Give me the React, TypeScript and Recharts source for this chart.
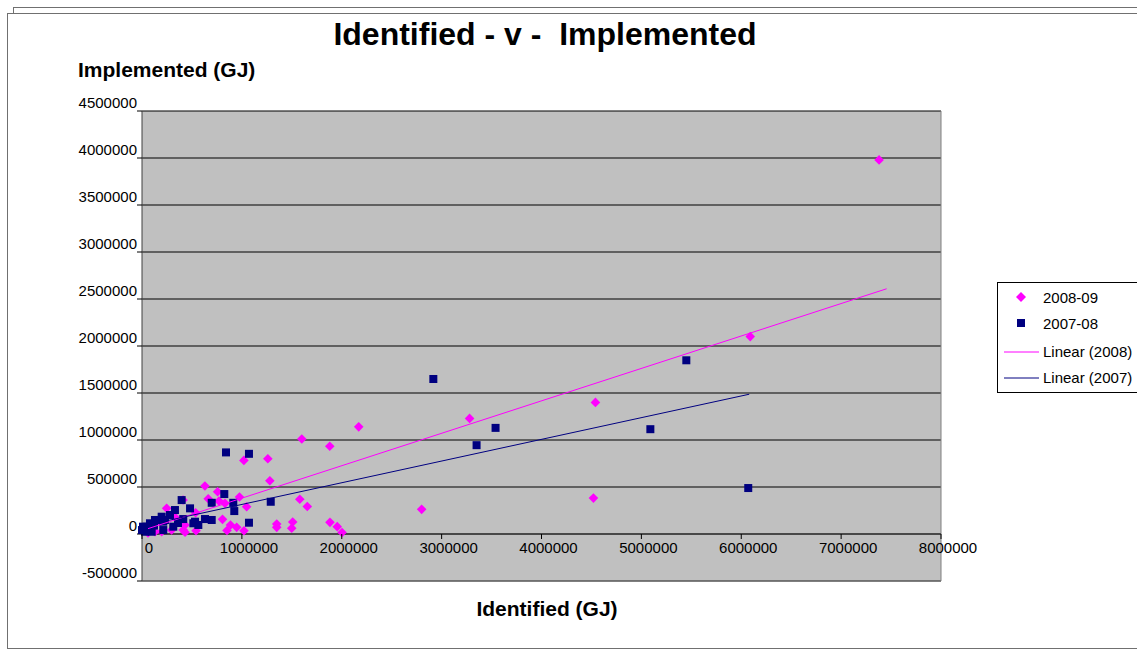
import React from 'react';
import { ScatterChart, Scatter, XAxis, YAxis, CartesianGrid, ReferenceLine } from 'recharts';

// 2008-09 series
const identified2008 = [
  7380000, 6090000, 4540000, 4520000, 3280000, 2800000, 2170000, 1880000, 1600000, 1260000,
  1280000, 1020000, 630000, 757000, 663000, 771000, 831000, 976000, 1048000, 1580000,
  1655000, 806000, 886000, 948000, 851000, 1021000, 1349000, 1349000, 1509000, 1499000,
  1882000, 1955000, 2003000, 431000, 431000, 541000, 247000, 297000, 413000, 130000,
  197000, 411000, 537000, 60000, 180000, 330000,
];
const implemented2008 = [
  3980000, 2100000, 1400000, 382000, 1230000, 262000, 1140000, 934000, 1010000, 800000,
  566000, 783000, 510000, 449000, 375000, 350000, 326000, 393000, 290000, 369000,
  292000, 156000, 96000, 71000, 37000, 35000, 106000, 71000, 127000, 61000,
  124000, 78000, 16000, 96000, 18000, 35000, 273000, 42000, 42000, 24000,
  24000, 361000, 226000, 10000, 127000, 180000,
];

// 2007-08 series
const identified2007 = [
  2917000, 5450000, 3540000, 3350000, 5090000, 6070000, 841000, 1071000, 824000, 698000,
  914000, 924000, 1289000, 481000, 397000, 413000, 531000, 564000, 631000, 698000,
  1071000, 280000, 197000, 130000, 80000, 47000, 0, 213000, 313000, 514000,
  10000, 30000, 97000, 160000, 330000, 230000, 360000, 213000, 120000, 60000,
];
const implemented2007 = [
  1649000, 1848000, 1129000, 945000, 1115000, 489000, 868000, 853000, 425000, 332000,
  332000, 244000, 343000, 273000, 361000, 159000, 131000, 96000, 159000, 149000,
  120000, 202000, 184000, 149000, 114000, 78000, 42000, 42000, 78000, 114000,
  78000, 24000, 24000, 149000, 255000, 149000, 117000, 131000, 90000, 60000,
];

// Linear trend lines (end points)
const trendIdentified2008 = [60000, 7456000];
const trendImplemented2008 = [57000, 2609000];
const trendIdentified2007 = [10000, 6080000];
const trendImplemented2007 = [86000, 1487000];

const xTicks = [0, 1000000, 2000000, 3000000, 4000000, 5000000, 6000000, 7000000, 8000000];
const yTicks = [-500000, 0, 500000, 1000000, 1500000, 2000000, 2500000, 3000000, 3500000, 4000000, 4500000];
const seriesNames = ['2008-09', '2007-08', 'Linear (2008)', 'Linear (2007)'];

const PINK = '#FF00FF';
const NAVY = '#000080';
const FONT = "'Liberation Sans', Arial, sans-serif";

const toPoints = (xs: number[], ys: number[]) => xs.map((x, i) => ({ x, y: ys[i] }));

const pts2008 = toPoints(identified2008, implemented2008);
const pts2007 = toPoints(identified2007, implemented2007);
const trend2008 = toPoints(trendIdentified2008, trendImplemented2008);
const trend2007 = toPoints(trendIdentified2007, trendImplemented2007);

const Diamond = (props: any) => {
  const { cx, cy } = props;
  const r = 4.8;
  return <polygon points={`${cx},${cy - r} ${cx + r},${cy} ${cx},${cy + r} ${cx - r},${cy}`} fill={PINK} />;
};

const Square = (props: any) => {
  const { cx, cy } = props;
  return <rect x={cx - 4} y={cy - 4} width={8} height={8} fill={NAVY} />;
};

const NoShape = () => <g />;

// x-axis crosses at y = 0, one tenth of the plot height above the bottom
const ZERO_SHIFT = 47;

const XTick = (props: any) => {
  const { x, y, payload } = props;
  const y0 = y - ZERO_SHIFT;
  return (
    <g>
      <line x1={x} x2={x} y1={y0} y2={y0 + 5} stroke="#000" strokeWidth={1} />
      <text x={x + 7} y={y0 + 18.5} textAnchor="middle" fontSize={15} fontFamily={FONT} fill="#000">
        {payload.value}
      </text>
    </g>
  );
};

const YTick = (props: any) => {
  const { x, y, payload } = props;
  return (
    <text x={x} y={y - 3} textAnchor="end" fontSize={15} fontFamily={FONT} fill="#000">
      {payload.value}
    </text>
  );
};

export default function App() {
  return (
    <div style={{ position: 'absolute', left: 0, top: 0, width: 1137, height: 650, background: '#fff', overflow: 'hidden', fontFamily: FONT }}>
      {/* outer chart frames */}
      <div style={{ position: 'absolute', left: 13, top: 7, width: 1140, height: 630, border: '1.5px solid #707070', background: '#fff' }} />
      <div style={{ position: 'absolute', left: 7, top: 13, width: 1140, height: 634, border: '1.5px solid #707070', background: '#fff' }} />

      <div style={{ position: 'absolute', left: 0, top: 0 }}>
        <ScatterChart width={1137} height={650} margin={{ top: 111, right: 196, bottom: 39, left: 82 }}>
          <CartesianGrid vertical={false} stroke="#000" strokeWidth={1} fill="#C0C0C0" fillOpacity={1} />
          <XAxis
            type="number"
            dataKey="x"
            domain={[0, 8000000]}
            ticks={xTicks}
            interval={0}
            height={30}
            tickSize={0}
            tickMargin={0}
            tickLine={false}
            axisLine={{ stroke: '#808080', strokeWidth: 1 }}
            tick={<XTick />}
          />
          <YAxis
            type="number"
            dataKey="y"
            domain={[-500000, 4500000]}
            ticks={yTicks}
            interval={0}
            width={60}
            tickSize={5}
            tickMargin={0}
            tickLine={{ stroke: '#000' }}
            axisLine={{ stroke: '#404040', strokeWidth: 1 }}
            tick={<YTick />}
          />
          <ReferenceLine x={8000000} stroke="#808080" strokeWidth={1} />
          <ReferenceLine y={0} stroke="#303030" strokeWidth={1} />
          <Scatter name={seriesNames[0]} data={pts2008} shape={<Diamond />} isAnimationActive={false} />
          <Scatter name={seriesNames[1]} data={pts2007} shape={<Square />} isAnimationActive={false} />
          <Scatter
            name={seriesNames[2]}
            data={trend2008}
            line={{ stroke: PINK, strokeWidth: 1 }}
            shape={<NoShape />}
            isAnimationActive={false}
          />
          <Scatter
            name={seriesNames[3]}
            data={trend2007}
            line={{ stroke: NAVY, strokeWidth: 1 }}
            shape={<NoShape />}
            isAnimationActive={false}
          />
        </ScatterChart>
      </div>

      <svg width={1137} height={650} style={{ position: 'absolute', left: 0, top: 0, pointerEvents: 'none' }}>
        <text x={545} y={45} textAnchor="middle" fontSize={32} fontWeight="bold" fontFamily={FONT} fill="#000" style={{ whiteSpace: 'pre' }} xmlSpace="preserve">
          {'Identified - v -  Implemented'}
        </text>
        <text x={78} y={77} textAnchor="start" fontSize={21} fontWeight="bold" fontFamily={FONT} fill="#000">
          Implemented (GJ)
        </text>
        <text x={547} y={616} textAnchor="middle" fontSize={21} fontWeight="bold" fontFamily={FONT} fill="#000">
          Identified (GJ)
        </text>
      </svg>

      {/* legend */}
      <div style={{ position: 'absolute', left: 997, top: 282, width: 160, height: 109, border: '1px solid #000', background: '#fff' }}>
        <svg width={160} height={109} style={{ position: 'absolute', left: 0, top: 0 }}>
          <polygon points="23,9 28,14 23,19 18,14" fill={PINK} />
          <rect x={19} y={36} width={8} height={8} fill={NAVY} />
          <line x1={6} x2={41} y1={69} y2={69} stroke={PINK} strokeWidth={1} />
          <line x1={6} x2={41} y1={95} y2={95} stroke={NAVY} strokeWidth={1} />
          {seriesNames.map((n, i) => (
            <text key={n} x={45} y={[20, 46, 74, 100][i]} fontSize={15} fontFamily={FONT} fill="#000">
              {n}
            </text>
          ))}
        </svg>
      </div>
    </div>
  );
}
